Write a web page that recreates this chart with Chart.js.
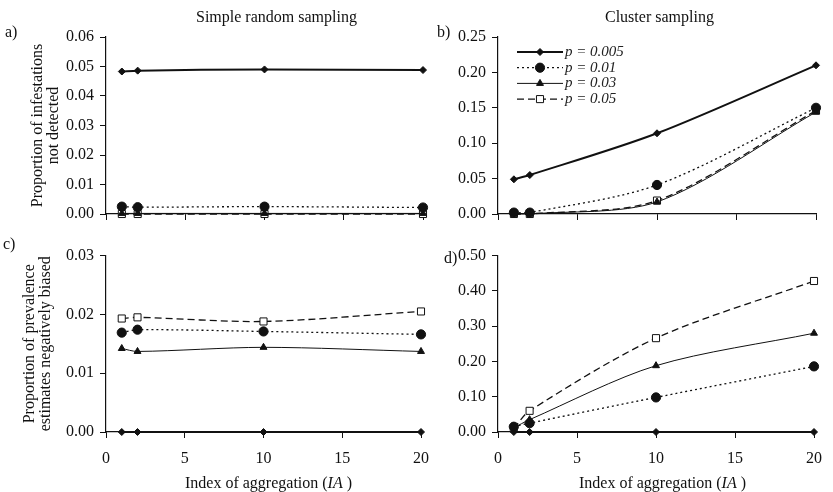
<!DOCTYPE html>
<html>
<head>
<meta charset="utf-8">
<script src="https://cdn.jsdelivr.net/npm/chart.js@4/dist/chart.umd.min.js"></script>
<style>
  body { margin: 0; background: #fff; }
  #wrap { position: relative; width: 833px; height: 492px; font-family: "Liberation Serif", serif; color: #111; }
  canvas { position: absolute; }
  .txt { position: absolute; font-size: 16px; white-space: nowrap; line-height: 16px; }
</style>
</head>
<body>
<div id="wrap">
  <canvas id="cA" style="left:0;top:0" width="440" height="240"></canvas>
  <canvas id="cB" style="left:440px;top:0" width="393" height="240"></canvas>
  <canvas id="cC" style="left:0;top:240px" width="440" height="252"></canvas>
  <canvas id="cD" style="left:440px;top:240px" width="393" height="252"></canvas>
  <div class="txt" style="left:196px;top:9px">Simple random sampling</div>
  <div class="txt" style="left:605px;top:9px">Cluster sampling</div>
  <div class="txt" style="left:5px;top:24px">a)</div>
  <div class="txt" style="left:437px;top:24px">b)</div>
  <div class="txt" style="left:3px;top:236px">c)</div>
  <div class="txt" style="left:444px;top:250px">d)</div>
  <div class="txt" style="left:185px;top:475px">Index of aggregation (<i>IA</i> )</div>
  <div class="txt" style="left:579px;top:475px">Index of aggregation (<i>IA</i> )</div>
</div>
<script>
const ia = [1, 2, 10, 20];
const pLabels = ['p = 0.005', 'p = 0.01', 'p = 0.03', 'p = 0.05'];
const xTicks = [0, 5, 10, 15, 20];

// a) simple random sampling - proportion of infestations not detected
const srsMiss005 = [0.0483, 0.0486, 0.0490, 0.0488];
const srsMiss01 = [0.0025, 0.0023, 0.0025, 0.0022];
const srsMiss03 = [0.0002, 0.0002, 0.0002, 0.0002];
const srsMiss05 = [0, 0, 0, 0];
const yTicksA = [0, 0.01, 0.02, 0.03, 0.04, 0.05, 0.06];

// b) cluster sampling - proportion not detected
const clMiss005 = [0.049, 0.055, 0.114, 0.210];
const clMiss01 = [0.002, 0.002, 0.041, 0.150];
const clMiss03 = [0, 0, 0.017, 0.144];
const clMiss05 = [0, 0, 0.019, 0.146];
const yTicksB = [0, 0.05, 0.10, 0.15, 0.20, 0.25];

// c) simple random sampling - prevalence negatively biased
const srsBias005 = [0, 0, 0, 0];
const srsBias01 = [0.0169, 0.0174, 0.0171, 0.0166];
const srsBias03 = [0.0142, 0.0137, 0.0144, 0.0137];
const srsBias05 = [0.0193, 0.0195, 0.0188, 0.0205];
const yTicksC = [0, 0.01, 0.02, 0.03];

// d) cluster sampling - prevalence negatively biased
const clBias005 = [0, 0, 0, 0];
const clBias01 = [0.015, 0.025, 0.098, 0.186];
const clBias03 = [0.012, 0.035, 0.188, 0.280];
const clBias05 = [0.010, 0.060, 0.266, 0.428];
const yTicksD = [0, 0.10, 0.20, 0.30, 0.40, 0.50];

const ink = '#111';
Chart.defaults.font.family = '"Liberation Serif", serif';
Chart.defaults.font.size = 16;
Chart.defaults.color = ink;

const seriesStyles = [
  { pointStyle: 'rectRot', pointRadius: 3.5, borderWidth: 2, borderDash: [], pointBackgroundColor: ink },
  { pointStyle: 'circle', pointRadius: 4.6, borderWidth: 1.3, borderDash: [2, 3], pointBackgroundColor: ink },
  { pointStyle: 'triangle', pointRadius: 4, borderWidth: 1, borderDash: [], pointBackgroundColor: ink },
  { pointStyle: 'rect', pointRadius: 5, borderWidth: 1.3, borderDash: [7, 4], pointBackgroundColor: '#fff' },
];

function makeSets(seriesList) {
  return seriesList.map((vals, i) => ({
    label: pLabels[i],
    data: vals.map((v, j) => ({ x: ia[j], y: v })),
    borderColor: ink,
    pointBorderColor: ink,
    pointBorderWidth: 1,
    tension: 0.3,
    clip: false,
    ...seriesStyles[i],
  }));
}

// legend drawn inside panel b
const insideLegend = {
  id: 'insideLegend',
  afterDatasetsDraw(chart) {
    const { ctx, chartArea } = chart;
    const x0 = chartArea.left + 19, x1 = x0 + 46;
    chart.data.datasets.forEach((ds, i) => {
      const y = chartArea.top + 15 + i * 15.7;
      ctx.save();
      ctx.strokeStyle = ds.borderColor;
      ctx.lineWidth = ds.borderWidth;
      ctx.setLineDash(ds.borderDash);
      ctx.beginPath();
      ctx.moveTo(x0, y);
      ctx.lineTo(x1, y);
      ctx.stroke();
      ctx.setLineDash([]);
      ctx.fillStyle = ds.pointBackgroundColor;
      ctx.strokeStyle = ink;
      ctx.lineWidth = 1;
      Chart.helpers.drawPoint(ctx, { pointStyle: ds.pointStyle, radius: ds.pointRadius, rotation: 0, borderWidth: 1 }, (x0 + x1) / 2, y);
      ctx.fillStyle = '#222';
      ctx.font = 'italic 15px "Liberation Serif"';
      ctx.textBaseline = 'middle';
      ctx.fillText(ds.label, x1 + 2, y);
      ctx.restore();
    });
  }
};

function renderPanel(canvas, sets, yTicks, opts) {
  const yMax = yTicks[yTicks.length - 1];
  return new Chart(canvas, {
    type: 'line',
    data: { datasets: makeSets(sets) },
    options: {
      responsive: false,
      animation: false,
      layout: { padding: { top: opts.top, right: 17, left: 0, bottom: 0 } },
      scales: {
        x: {
          type: 'linear',
          min: 0,
          max: 20,
          afterBuildTicks: (s) => { s.ticks = xTicks.map(v => ({ value: v })); },
          afterFit: (s) => { s.height = opts.xHeight; },
          ticks: { display: opts.xLabels, padding: 11, maxRotation: 0 },
          grid: { drawOnChartArea: false, drawTicks: true, tickLength: 6, color: ink },
          border: { color: ink, width: 1.2 },
        },
        y: {
          min: 0,
          max: yMax,
          afterBuildTicks: (s) => { s.ticks = yTicks.map(v => ({ value: v })); },
          afterFit: (s) => { s.width = opts.yWidth; },
          ticks: { padding: 6, callback: (v) => Number(v).toFixed(2) },
          grid: { drawOnChartArea: false, drawTicks: true, tickLength: 6, color: ink },
          border: { color: ink, width: 1.2 },
          title: opts.yTitle
            ? { display: true, text: opts.yTitle, font: { size: 16, lineHeight: 1 }, padding: { top: opts.yTitlePad, bottom: 0 } }
            : { display: false },
        },
      },
      plugins: {
        legend: { display: false },
        tooltip: { enabled: false },
      },
    },
    plugins: opts.legend ? [insideLegend] : [],
  });
}

renderPanel(document.getElementById('cA'), [srsMiss005, srsMiss01, srsMiss03, srsMiss05], yTicksA,
  { top: 37, xHeight: 26, yWidth: 106, xLabels: false, yTitle: ['Proportion of infestations', 'not detected'], yTitlePad: 30 });
renderPanel(document.getElementById('cB'), [clMiss005, clMiss01, clMiss03, clMiss05], yTicksB,
  { top: 37, xHeight: 26, yWidth: 58, xLabels: false, legend: true });
renderPanel(document.getElementById('cC'), [srsBias005, srsBias01, srsBias03, srsBias05], yTicksC,
  { top: 15, xHeight: 60, yWidth: 106, xLabels: true, yTitle: ['Proportion of prevalence', 'estimates negatively biased'], yTitlePad: 22 });
renderPanel(document.getElementById('cD'), [clBias005, clBias01, clBias03, clBias05], yTicksD,
  { top: 15, xHeight: 60, yWidth: 58, xLabels: true });
</script>
</body>
</html>
